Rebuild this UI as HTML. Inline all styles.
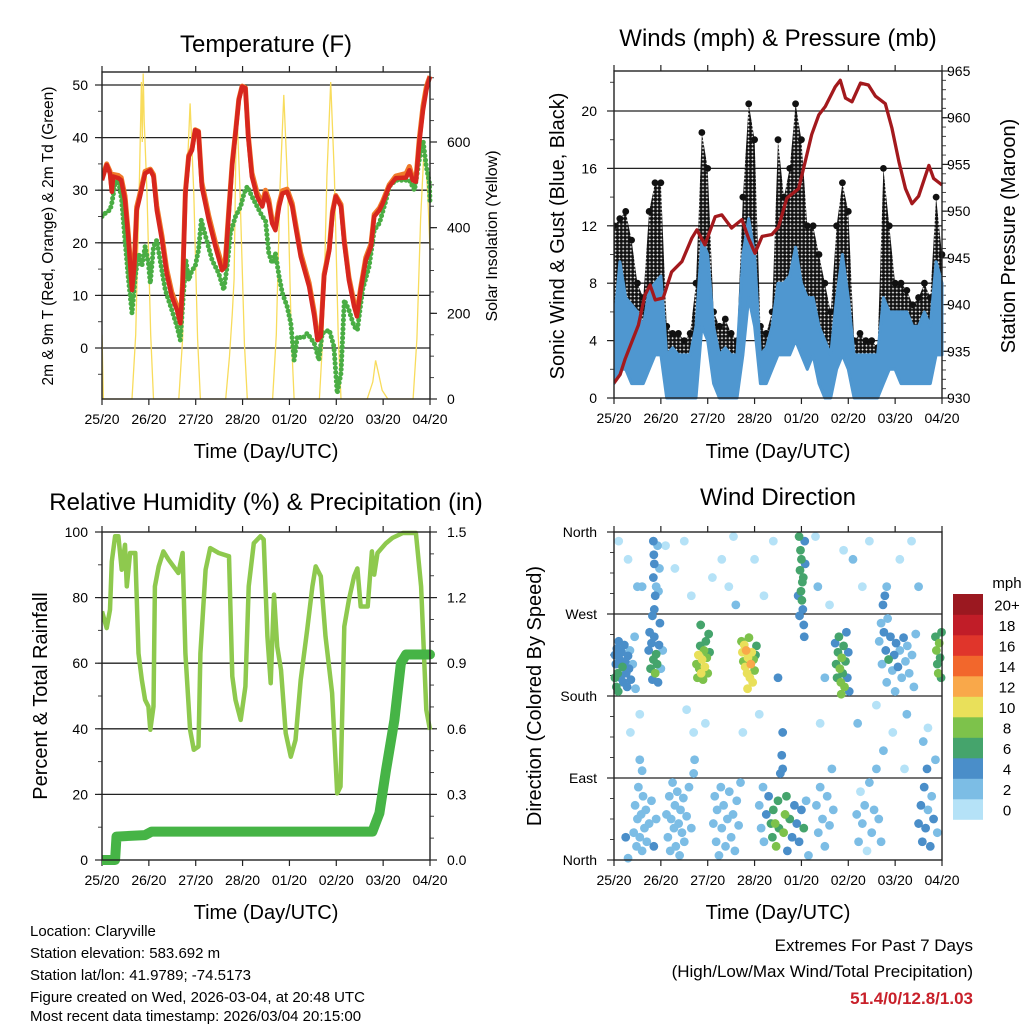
<!DOCTYPE html>
<html><head><meta charset="utf-8"><title>Station Meteogram</title>
<style>
html,body{margin:0;padding:0;background:#fff;}
svg{display:block;font-family:"Liberation Sans",Arial,sans-serif;}
</style></head>
<body>
<svg id="chart" width="1024" height="1024" viewBox="0 0 1024 1024" xmlns="http://www.w3.org/2000/svg">
<defs>
<pattern id="gustDots" width="3.8" height="3.8" patternUnits="userSpaceOnUse"><circle cx="1.9" cy="1.9" r="1.9" fill="#111"/></pattern>
</defs>
<rect x="0" y="0" width="1024" height="1024" fill="#fff"/>
<text x="266" y="52" font-size="24" text-anchor="middle">Temperature (F)</text>
<text x="778" y="46" font-size="24" text-anchor="middle">Winds (mph) &amp; Pressure (mb)</text>
<text x="266" y="510" font-size="24" text-anchor="middle">Relative Humidity (%) &amp; Precipitation (in)</text>
<text x="778" y="505" font-size="24" text-anchor="middle">Wind Direction</text>

<text x="266" y="458" font-size="20" text-anchor="middle">Time (Day/UTC)</text>
<text x="778" y="458" font-size="20" text-anchor="middle">Time (Day/UTC)</text>
<text x="266" y="919" font-size="20" text-anchor="middle">Time (Day/UTC)</text>
<text x="778" y="919" font-size="20" text-anchor="middle">Time (Day/UTC)</text>

<text transform="translate(53,236) rotate(-90)" font-size="15.5" text-anchor="middle">2m &amp; 9m T (Red, Orange) &amp; 2m Td (Green)</text>
<text transform="translate(497,236) rotate(-90)" font-size="16" text-anchor="middle">Solar Insolation (Yellow)</text>
<text transform="translate(564,236) rotate(-90)" font-size="20" text-anchor="middle">Sonic Wind &amp; Gust (Blue, Black)</text>
<text transform="translate(1015,236) rotate(-90)" font-size="20" text-anchor="middle">Station Pressure (Maroon)</text>
<text transform="translate(47,696) rotate(-90)" font-size="20" text-anchor="middle">Percent &amp; Total Rainfall</text>
<text transform="translate(541,696) rotate(-90)" font-size="20" text-anchor="middle">Direction (Colored By Speed)</text>

<g font-size="15">
<text x="30" y="936">Location: Claryville</text>
<text x="30" y="958">Station elevation: 583.692 m</text>
<text x="30" y="980">Station lat/lon: 41.9789; -74.5173</text>
<text x="30" y="1002">Figure created on Wed, 2026-03-04, at 20:48 UTC</text>
<text x="30" y="1024" dy="-3">Most recent data timestamp: 2026/03/04 20:15:00</text>
</g>
<g font-size="17" text-anchor="end">
<text x="973" y="951">Extremes For Past 7 Days</text>
<text x="973" y="977">(High/Low/Max Wind/Total Precipitation)</text>
<text x="973" y="1004" fill="#c8202a" font-weight="bold">51.4/0/12.8/1.03</text>
</g>
<text x="1007" y="588" font-size="15" text-anchor="middle">mph</text>
</svg>
<script>
// ---------- shared axis data ----------
const dayTicks = [0,1,2,3,4,5,6,7];
const dayLabels = ['25/20','26/20','27/20','28/20','01/20','02/20','03/20','04/20'];

// ---------- temperature panel data ----------
const tempTicks = [0,10,20,30,40,50];
const solarTicks = [0,200,400,600];
const redT = [0,0.10,0.17,0.21,0.24,0.35,0.41,0.49,0.56,0.64,0.69,0.74,0.81,0.92,1.03,1.10,1.17,1.28,1.38,1.49,1.60,1.67,1.72,1.78,1.85,1.92,1.99,2.06,2.13,2.28,2.42,2.56,2.63,2.71,2.78,2.85,2.92,2.99,3.06,3.12,3.20,3.31,3.42,3.49,3.56,3.63,3.70,3.78,3.85,3.95,4.06,4.13,4.24,4.42,4.53,4.60,4.67,4.74,4.85,4.92,4.99,5.10,5.17,5.27,5.38,5.44,5.52,5.63,5.74,5.81,5.92,5.99,6.13,6.27,6.49,6.56,6.63,6.70,6.77,6.85,6.92,6.96,7.0];
const redV = [31.9,34.8,33.2,29.7,32.6,32.3,31.9,28.1,21.2,11.0,15.5,26.2,28.8,33.2,33.8,32.6,26.2,20.5,14.2,9.8,7.2,4.7,11.7,29.4,36.4,37.6,41.4,41.1,30.7,24.3,19.3,14.8,15.5,26.2,35.1,40.8,47.1,49.7,49.4,40.2,32.6,28.8,26.9,29.4,27.5,23.7,22.4,26.9,29.4,29.7,26.9,23.1,17.4,11.7,6.0,1.5,2.2,13.6,18.6,25.6,28.8,26.9,19.9,12.9,7.9,6.0,11.0,16.7,19.3,25.0,26.2,27.5,30.7,32.3,32.4,33.8,31.9,31.6,38.9,45.2,49.0,50.4,51.6];
const orangeV = [32.4,35.0,33.6,30.3,33.0,32.8,32.4,28.9,22.0,11.8,16.2,26.8,29.4,33.6,34.0,33.0,27.0,21.3,15.0,10.6,8.0,5.5,12.4,29.8,36.6,37.9,41.5,41.2,31.5,25.1,20.1,15.8,16.3,26.8,35.4,41.0,47.3,49.8,49.5,40.6,33.3,29.5,27.6,30.0,28.2,24.4,23.0,27.5,29.9,30.2,27.5,23.8,18.1,12.4,6.8,2.0,2.8,14.0,19.0,26.0,29.0,27.3,20.5,13.5,8.6,6.6,11.5,17.2,19.8,25.4,26.6,27.9,31.0,32.7,33.2,34.5,32.4,32.0,39.6,46.0,49.6,50.7,51.7];
const greenT = [0,0.10,0.17,0.21,0.28,0.35,0.42,0.49,0.56,0.64,0.71,0.78,0.85,0.92,0.99,1.03,1.10,1.17,1.24,1.35,1.49,1.60,1.67,1.74,1.79,1.85,1.92,1.99,2.06,2.12,2.21,2.35,2.49,2.60,2.67,2.74,2.85,2.96,3.03,3.10,3.20,3.31,3.42,3.49,3.56,3.63,3.70,3.78,3.85,3.95,4.03,4.10,4.17,4.28,4.38,4.53,4.63,4.70,4.85,4.95,5.02,5.10,5.17,5.27,5.38,5.45,5.56,5.70,5.81,5.92,6.06,6.13,6.27,6.56,6.67,6.77,6.85,6.92,6.99,7.0];
const greenV = [25.0,25.9,26.2,27.5,31.3,31.9,28.1,20.5,13.6,6.6,13.6,18.0,15.5,19.3,16.1,12.3,19.3,20.5,16.7,11.0,7.2,4.1,1.5,10.4,16.7,12.9,14.8,15.5,18.6,24.3,21.2,16.7,14.2,11.0,15.5,21.8,25.0,26.9,29.4,30.7,28.8,26.9,25.0,24.3,18.0,16.1,18.0,13.6,10.4,7.9,4.7,-2.3,2.2,1.8,2.8,0.9,-2.3,2.8,3.4,0.3,-8.6,-4.8,9.1,7.2,4.1,3.4,11.0,15.5,22.4,23.7,28.1,30.7,31.9,31.9,30.0,35.7,39.5,34.5,31.3,27.5];
const solarT = [0,0.03,0.64,0.72,0.80,0.84,0.86,0.88,0.90,0.96,1.04,1.10,1.64,1.72,1.80,1.88,1.96,2.04,2.10,2.64,2.72,2.78,2.82,2.86,2.88,2.94,3.04,3.10,3.64,3.72,3.80,3.88,3.96,4.04,4.10,4.64,4.72,4.80,4.88,4.96,5.04,5.10,5.66,5.78,5.84,5.90,5.98,6.10,6.64,6.72,6.80,6.88,6.95,7.0];
const solarV = [150,0,0,150,520,740,600,760,650,480,150,0,0,140,480,690,480,140,0,0,100,200,280,600,670,500,130,0,0,150,500,710,500,150,0,0,160,520,740,520,150,0,0,40,90,60,20,0,0,140,420,600,480,350];

// ---------- winds panel data ----------
const windTicks = [0,4,8,12,16,20];
const pressTicks = [930,935,940,945,950,955,960,965];
const windT = [0,0.125,0.25,0.375,0.5,0.625,0.75,0.875,1,1.125,1.25,1.375,1.5,1.625,1.75,1.875,2,2.125,2.25,2.375,2.5,2.625,2.75,2.875,3,3.125,3.25,3.375,3.5,3.625,3.75,3.875,4,4.125,4.25,4.375,4.5,4.625,4.75,4.875,5,5.125,5.25,5.375,5.5,5.625,5.75,5.875,6,6.125,6.25,6.375,6.5,6.625,6.75,6.875,7];
const blueHi = [5,9.5,7,6.5,6,5,7.5,8,8.5,3,3.5,3,3,3,5,11,10,5,3,3.5,3,3,10,12.5,10,3,3.5,5,8,8,8.5,10.5,8,7,7,5,4,3,7,10,7,3,3,3,3,3,7,6,6,6,6,5,5,6,5,9.5,8];
const blueLo = [1,2,2,1,1,1,2,3,3,0,0,0,0,0,0,5,4,1,0,0,0,0,3,7,5,1,1,2,3,3,3,4,3,2,3,1,0,0,2,3,2,0,0,0,0,0,1,2,2,1,1,1,1,1,1,3,3];
const gustHi = [12,12.5,13,11,8,7,13,15,15,5,4.5,4.5,4,4.5,8,18.5,16,6,5,5.5,4.5,4,14,20.5,18,5,4.5,6,18,14,16,20.5,18,12,12,10,8,6,12,15,13,4,4.5,4,4,3.5,16,12,8,8,7.5,6.5,7,8,7,14,10];
const gustLo = [5,6,7,6,4,3,5,7,8,2,2,2,2,2,3,8,8,3,2,2,2,2,7,9,9,2,2,3,6,7,8,8,7,6,6,4,3,2,5,7,6,2,1.5,1.5,1.5,1.5,5,5,4,4,4,3,4,4,3,7,6];
const pressT = [0,0.13,0.24,0.38,0.52,0.66,0.77,0.88,1.05,1.23,1.45,1.66,1.77,1.94,2.16,2.30,2.51,2.73,2.87,3.01,3.16,3.37,3.51,3.69,3.94,4.08,4.22,4.37,4.51,4.72,4.83,4.94,5.08,5.26,5.43,5.58,5.79,5.93,6.08,6.22,6.36,6.50,6.72,6.82,7.0];
const pressV = [931.6,932.5,934.2,936.0,937.8,941.0,942.1,940.5,940.7,943.5,944.6,947.1,948.0,946.4,949.4,949.6,948.2,949.1,947.1,945.5,947.3,947.5,948.3,951.4,952.4,955.3,958.2,960.3,961.2,963.3,964.0,962.1,961.7,963.7,963.5,962.3,961.5,958.9,955.3,952.4,950.8,951.6,954.9,953.5,952.8];

// ---------- humidity panel data ----------
const rhTicks = [0,20,40,60,80,100];
const precipTicks = [0,0.3,0.6,0.9,1.2,1.5];
const precipTickLabels = ['0.0','0.3','0.6','0.9','1.2','1.5'];
const rhT = [0,0.10,0.17,0.21,0.28,0.35,0.42,0.49,0.53,0.60,0.71,0.78,0.85,0.92,0.99,1.03,1.10,1.13,1.21,1.31,1.42,1.63,1.72,1.78,1.88,1.96,2.06,2.10,2.21,2.31,2.49,2.71,2.78,2.85,2.96,3.06,3.13,3.24,3.38,3.45,3.53,3.60,3.67,3.74,3.82,3.92,4.03,4.13,4.24,4.38,4.49,4.56,4.67,4.77,4.91,5.02,5.09,5.17,5.27,5.38,5.45,5.52,5.67,5.76,5.81,5.88,6.06,6.20,6.42,6.70,6.81,6.92,7.0];
const rhV = [75.8,70.7,76.3,91,98.7,98.7,88.5,96.1,83.4,93.6,93.6,63,55,48.8,46.8,39.7,46.8,83.4,89.5,94.1,91.6,87.5,93.6,63,39.7,33.6,34.6,63,88.5,95.1,93.6,92.6,56,48.8,42.7,52.9,83.4,96.6,98.7,97.7,68.2,53.9,80.9,65.1,58,38.7,31.5,36.6,54.9,70.2,83.4,89.5,86.5,68.2,50.9,20.3,22.4,71.2,79.3,86.5,88.9,77.3,77.3,94.1,87,93.6,96.6,98.2,99.7,99.7,83.4,45.8,39.7];
const precipT = [0,0.28,0.31,0.92,1.06,5.77,5.92,6.06,6.24,6.38,6.49,7.0];
const precipV = [0,0,0.107,0.114,0.13,0.13,0.214,0.41,0.64,0.90,0.94,0.94];

// ---------- wind direction panel data ----------
const dirTicks = [0,90,180,270,360];
const dirLabels = ['North','East','South','West','North'];
const speedBins = [0,2,4,6,8,10,12,14,16,18,20];
const speedBinLabels = ['0','2','4','6','8','10','12','14','16','18','20+'];
const speedColors = ['#b5e2f7','#7cbde5','#4a8ec9','#45a46c','#7dc24b','#e9e05a','#f9a84a','#f2672c','#e0352b','#c11d28','#9b1820'];
const wdT = [0.02,0.04,0.06,0.08,0.1,0.12,0.14,0.16,0.18,0.2,0.22,0.24,0.26,0.28,0.3,0.32,0.36,0.4,0.02,0.05,0.34,0.44,0.46,0.09,
0.74,0.76,0.78,0.8,0.82,0.84,0.86,0.88,0.9,0.92,0.94,0.96,0.98,1.0,1.04,0.82,0.86,
0.84,0.85,0.86,0.84,0.9,0.95,0.97,0.93,0.88,
1.76,1.78,1.8,1.82,1.84,1.86,1.88,1.9,1.92,1.94,1.96,1.98,2.0,2.02,2.04,1.85,
2.72,2.74,2.76,2.78,2.8,2.82,2.84,2.86,2.88,2.9,2.92,2.94,2.96,2.98,3.0,3.02,2.85,3.04,
3.95,3.98,4.0,3.97,4.02,3.99,4.01,4.03,3.96,4.05,4.06,4.07,4.08,4.04,3.93,
4.72,4.74,4.76,4.78,4.8,4.82,4.84,4.86,4.88,4.9,4.92,4.94,4.96,4.98,5.0,5.02,4.85,
5.66,5.7,5.72,5.74,5.76,5.8,5.82,5.84,5.86,5.9,5.94,5.98,6.02,6.06,6.1,6.14,6.18,6.22,6.26,6.3,6.36,6.4,6.44,5.78,5.82,6.0,
6.86,6.88,6.9,6.92,6.94,6.96,6.98,6.99,
0.42,0.45,0.48,0.5,0.52,0.55,0.58,0.6,0.62,0.65,0.68,0.7,0.75,0.8,0.85,0.9,0.55,0.6,0.25,0.3,
1.12,1.15,1.18,1.2,1.22,1.25,1.28,1.3,1.32,1.35,1.38,1.4,1.42,1.45,1.48,1.5,1.55,1.6,1.65,1.7,1.72,
2.12,2.15,2.18,2.2,2.24,2.28,2.3,2.34,2.38,2.42,2.46,2.5,2.54,2.58,2.62,2.66,2.7,
3.1,3.14,3.18,3.2,3.25,3.3,3.35,3.38,3.4,3.44,3.46,3.5,3.52,3.55,3.6,3.62,3.65,3.68,3.7,3.75,3.8,3.85,3.9,3.95,4.0,4.05,4.1,4.15,3.58,
4.32,4.36,4.4,4.45,4.5,4.55,4.6,4.65,4.68,
5.18,5.22,5.26,5.3,5.35,5.4,5.45,5.5,5.55,5.6,5.65,5.7,
6.5,6.55,6.58,6.62,6.65,6.68,6.7,6.75,6.78,6.82,6.86,6.9,
0.1,0.3,0.5,0.35,0.55,0.6,1.1,1.3,1.5,1.65,1.55,1.7,1.95,2.1,2.3,2.45,2.55,2.6,2.75,3.0,3.1,3.2,3.4,3.5,3.6,4.3,4.35,4.4,4.5,4.6,4.9,5.1,5.2,5.3,5.45,5.6,5.75,5.95,6.1,6.25,6.35,6.5,6.6,6.7,6.2];
const wdDir = [225,215,232,205,240,220,200,228,212,195,236,218,205,190,224,210,198,215,200,190,230,245,188,185,
230,250,210,238,198,220,245,205,226,215,195,236,260,210,230,268,275,
350,335,325,310,300,295,320,345,290,
215,200,225,210,235,205,220,198,230,212,240,222,205,248,228,258,
240,228,218,236,212,230,205,222,244,200,215,228,195,220,208,225,188,235,
355,340,330,318,305,295,285,275,268,258,245,350,325,310,290,
238,215,200,228,245,210,195,222,205,235,190,218,250,200,228,185,182,
240,260,215,280,250,230,195,265,220,245,208,225,238,212,230,200,244,218,235,205,225,190,248,290,300,185,
245,230,215,205,238,222,200,250,
30,60,15,45,80,25,50,10,70,35,55,20,40,65,15,45,110,98,25,2,
50,25,70,10,45,85,35,60,15,75,40,5,55,30,68,20,48,80,35,95,110,
40,70,20,55,5,80,35,60,15,45,75,25,50,10,65,38,85,
60,35,80,20,50,70,40,25,55,40,15,65,35,95,100,30,50,70,10,45,25,60,40,20,55,35,65,5,115,
60,30,80,45,15,70,38,100,55,
50,20,75,40,60,10,85,30,55,100,45,20,
40,60,20,80,35,100,55,15,70,45,110,30,
350,330,300,140,160,300,345,320,350,290,165,140,150,310,330,300,355,280,140,330,160,290,350,200,140,355,300,150,200,280,340,330,150,300,350,170,120,140,330,160,350,300,130,145,100];
const wdSpd = [4,5,4,6,4,4,5,4,6,4,4,4,5,4,4,4,4,3,7,7,3,2,3,6,
4,5,6,4,5,7,4,8,7,6,5,4,4,3,2,5,4,
4,4,4,4,3,3,2,3,4,
8,9,10,9,7,10,10,8,9,10,7,8,9,6,7,6,
8,10,9,10,10,12,10,10,9,11,12,10,10,9,8,6,10,7,
7,6,7,6,7,6,7,5,5,4,4,4,4,6,4,
4,6,7,7,6,8,9,8,6,7,9,6,4,5,4,4,8,
2,3,2,4,4,4,2,3,6,4,2,4,4,4,3,2,4,3,2,2,3,2,2,4,3,3,
7,8,7,8,9,6,7,6,
3,2,3,3,2,3,3,3,3,2,3,3,2,3,4,3,2,2,4,2,
2,3,3,2,3,2,3,3,2,3,3,2,3,2,3,3,2,2,2,2,2,
3,2,3,3,2,3,3,3,2,3,3,2,3,2,2,3,2,
2,2,3,2,4,4,6,7,7,9,8,6,7,4,4,9,8,6,4,6,4,4,5,4,4,6,3,3,4,
2,3,2,2,3,3,2,2,3,
2,2,1,2,2,1,2,2,3,2,2,2,
4,4,4,4,5,4,3,4,3,4,2,2,
1,1,2,1,1,2,1,1,1,1,1,1,1,1,1,1,1,2,1,1,1,1,1,4,4,1,2,1,2,1,1,3,2,1,1,1,2,1,1,2,1,2,2,1,1];

// ---------- rendering ----------
const NS = 'http://www.w3.org/2000/svg';
const svg = document.getElementById('chart');
function mk(tag, attrs, parent) {
  const e = document.createElementNS(NS, tag);
  for (const k in attrs) e.setAttribute(k, attrs[k]);
  (parent || svg).appendChild(e);
  return e;
}
function linScale(d0, d1, r0, r1) { return v => r0 + (v - d0) * (r1 - r0) / (d1 - d0); }
function pathD(ts, vs, xs, ys) {
  return ts.map((t, i) => (i ? 'L' : 'M') + xs(t).toFixed(1) + ',' + ys(vs[i]).toFixed(1)).join('');
}

const panels = {
  temp: {x0:102, x1:430, y0:72, y1:399},
  wind: {x0:614, x1:942, y0:71, y1:398},
  rh:   {x0:102, x1:430, y0:532, y1:860},
  dir:  {x0:614, x1:942, y0:532, y1:860}
};

function drawFrame(p, name, gridVals, ys, leftVals, leftLabels, leftX, rightVals, rightLabels, ysR, rightX, leftMinor, rightMinor) {
  const g = mk('g', {});
  
  
  const xs = linScale(0, 7, p.x0, p.x1);
  gridVals.forEach(v => {
    const y = ys(v);
    if (y > p.y0 + 1 && y < p.y1 - 1) {
      const l = mk('line', {x1:p.x0, x2:p.x1, y1:y, y2:y, stroke:'#222', 'stroke-width':1.3}, g);
      
      
    }
  });
  dayTicks.forEach((d, i) => {
    const x = xs(d);
    mk('line', {x1:x, x2:x, y1:p.y1, y2:p.y1 + 6, stroke:'#222', 'stroke-width':1.2}, g);
    mk('line', {x1:x, x2:x, y1:p.y0, y2:p.y0 - 6, stroke:'#222', 'stroke-width':1.2}, g);
    const t = mk('text', {x:x, y:p.y1 + 25, 'font-size':14, 'text-anchor':'middle'}, g);
    
    
    t.textContent = dayLabels[i];
  });
  leftMinor.forEach(v => { const y = ys(v); mk('line', {x1:p.x0 - 4, x2:p.x0, y1:y, y2:y, stroke:'#444', 'stroke-width':1}, g); });
  leftVals.forEach((v, i) => {
    const y = ys(v);
    mk('line', {x1:p.x0 - 7, x2:p.x0, y1:y, y2:y, stroke:'#222', 'stroke-width':1.2}, g);
    const t = mk('text', {x:leftX, y:y + 5, 'font-size':14, 'text-anchor':'end'}, g);
    
    
    t.textContent = leftLabels[i];
  });
  if (rightVals) {
    rightMinor.forEach(v => { const y = ysR(v); mk('line', {x1:p.x1, x2:p.x1 + 4, y1:y, y2:y, stroke:'#444', 'stroke-width':1}, g); });
    rightVals.forEach((v, i) => {
      const y = ysR(v);
      mk('line', {x1:p.x1, x2:p.x1 + 7, y1:y, y2:y, stroke:'#222', 'stroke-width':1.2}, g);
      const t = mk('text', {x:rightX, y:y + 5, 'font-size':14, 'text-anchor':'start'}, g);
      
      
      t.textContent = rightLabels[i];
    });
  }
}
function drawBorder(p, name) {
  const r = mk('rect', {x:p.x0, y:p.y0, width:p.x1 - p.x0, height:p.y1 - p.y0, fill:'none', stroke:'#222', 'stroke-width':1.4});
  
  
}
function clipFor(p, id) {
  const cp = mk('clipPath', {id:id});
  mk('rect', {x:p.x0, y:p.y0 - 6, width:p.x1 - p.x0 + 6, height:p.y1 - p.y0 + 12}, cp);
  return 'url(#' + id + ')';
}
function range(a, b, s) { const r = []; for (let v = a; v <= b + 1e-9; v += s) r.push(+v.toFixed(3)); return r; }

// ----- Panel 1: temperature -----
(function () {
  const p = panels.temp;
  const xs = linScale(0, 7, p.x0, p.x1);
  const ys = linScale(0, 50, 348, 85);
  const ysS = linScale(0, 600, 399, 142);
  drawFrame(p, 'temp', tempTicks, ys, tempTicks, tempTicks.map(String), 88,
    solarTicks, solarTicks.map(String), ysS, 447, range(-5, 50, 5), range(0, 750, 50));
  const clip = clipFor(p, 'clipTemp');
  const g = mk('g', {'clip-path':clip});
  const sol = mk('path', {d:pathD(solarT, solarV, xs, ysS), fill:'none', stroke:'#f8dc5c', 'stroke-width':1.3}, g);
  
  
  const gr = mk('path', {d:pathD(greenT, greenV, xs, ys), fill:'none', stroke:'#4aad44', 'stroke-width':5, 'stroke-linecap':'round', 'stroke-dasharray':'0 4.5'}, g);
  
  
  const or = mk('path', {d:pathD(redT, orangeV, xs, ys), fill:'none', stroke:'#f07a2a', 'stroke-width':5, 'stroke-linejoin':'round'}, g);
  
  
  const rd = mk('path', {d:pathD(redT, redV, xs, ys), fill:'none', stroke:'#d7261e', 'stroke-width':4.5, 'stroke-linejoin':'round'}, g);
  
  
  drawBorder(p, 'temp');
})();

// ----- Panel 2: winds & pressure -----
(function () {
  const p = panels.wind;
  const xs = linScale(0, 7, p.x0, p.x1);
  const ys = linScale(0, 20, 398, 111);
  const ysP = linScale(930, 965, 398, 71);
  drawFrame(p, 'wind', windTicks, ys, windTicks, windTicks.map(String), 597,
    pressTicks, pressTicks.map(String), ysP, 947, range(0, 22, 2), range(930, 965, 1));
  const clip = clipFor(p, 'clipWind');
  const g = mk('g', {'clip-path':clip});
  const gustPts = windT.map((t, i) => xs(t).toFixed(1) + ',' + ys(gustHi[i]).toFixed(1))
    .concat(windT.slice().reverse().map((t, j) => { const i = windT.length - 1 - j; return xs(t).toFixed(1) + ',' + ys(gustLo[i]).toFixed(1); }));
  const ga = mk('polygon', {points:gustPts.join(' '), fill:'url(#gustDots)', stroke:'none'}, g);
  
  
  windT.forEach((t, i) => {
    const c = mk('circle', {cx:xs(t), cy:ys(gustHi[i]), r:3.4, fill:'#111'}, g);
    
    
  });
  const bluePts = windT.map((t, i) => xs(t).toFixed(1) + ',' + ys(blueHi[i]).toFixed(1))
    .concat(windT.slice().reverse().map((t, j) => { const i = windT.length - 1 - j; return xs(t).toFixed(1) + ',' + ys(blueLo[i]).toFixed(1); }));
  const ba = mk('polygon', {points:bluePts.join(' '), fill:'#4f97d0', stroke:'#4f97d0', 'stroke-width':3, 'stroke-linejoin':'round'}, g);
  
  
  const pl = mk('path', {d:pathD(pressT, pressV, xs, ysP), fill:'none', stroke:'#a3191d', 'stroke-width':3.3, 'stroke-linejoin':'round'}, g);
  
  
  drawBorder(p, 'wind');
})();

// ----- Panel 3: humidity & precipitation -----
(function () {
  const p = panels.rh;
  const xs = linScale(0, 7, p.x0, p.x1);
  const ys = linScale(0, 100, 860, 532);
  const ysP = linScale(0, 1.5, 860, 532);
  drawFrame(p, 'rh', rhTicks, ys, rhTicks, rhTicks.map(String), 88,
    precipTicks, precipTickLabels, ysP, 447, range(0, 100, 10), range(0, 1.65, 0.1));
  const clip = clipFor(p, 'clipRh');
  const g = mk('g', {'clip-path':clip});
  const rl = mk('path', {d:pathD(rhT, rhV, xs, ys), fill:'none', stroke:'#8ec94e', 'stroke-width':4.5, 'stroke-linejoin':'round'}, g);
  
  
  const pr = mk('path', {d:pathD(precipT, precipV, xs, ysP), fill:'none', stroke:'#46b446', 'stroke-width':10, 'stroke-linejoin':'round', 'stroke-linecap':'round'}, g);
  
  
  drawBorder(p, 'rh');
})();

// ----- Panel 4: wind direction -----
(function () {
  const p = panels.dir;
  const xs = linScale(0, 7, p.x0, p.x1);
  const ys = linScale(0, 360, 860, 532);
  drawFrame(p, 'dir', dirTicks, ys, dirTicks, dirLabels, 597, null, null, null, 0, range(0, 360, 22.5), []);
  const g = mk('g', {});
  const order = wdSpd.map((s, i) => i).sort((a, b) => wdSpd[a] - wdSpd[b]);
  order.forEach(i => {
    const bin = Math.min(10, Math.floor(wdSpd[i] / 2));
    const c = mk('circle', {cx:xs(wdT[i]), cy:ys(wdDir[i]), r:4.4, fill:speedColors[bin]}, g);
    
    
  });
  drawBorder(p, 'dir');
  // colorbar
  const cb = mk('g', {});
  
  
  const boxH = 20.5, top = 594;
  speedBins.forEach((s, i) => {
    const k = speedBins.length - 1 - i;
    const y = top + k * boxH;
    const r = mk('rect', {x:953, y:y, width:30, height:boxH + 0.3, fill:speedColors[i]}, cb);
    
    
    const t = mk('text', {x:1007, y:y + boxH / 2 + 6, 'font-size':15, 'text-anchor':'middle'}, cb);
    
    
    t.textContent = speedBinLabels[i];
  });
})();
</script>
</body></html>
